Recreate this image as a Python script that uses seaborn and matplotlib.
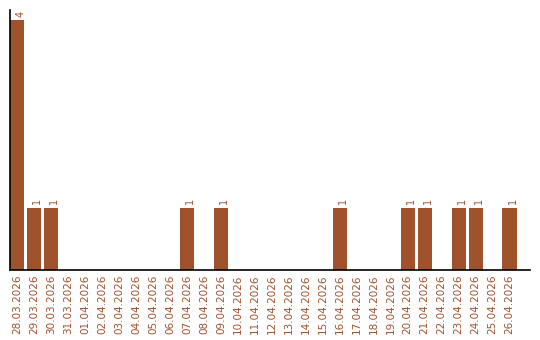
import matplotlib
matplotlib.use("Agg")
import matplotlib.pyplot as plt
import seaborn as sns
import pandas as pd

dates = ["28.03.2026", "29.03.2026", "30.03.2026", "31.03.2026", "01.04.2026",
         "02.04.2026", "03.04.2026", "04.04.2026", "05.04.2026", "06.04.2026",
         "07.04.2026", "08.04.2026", "09.04.2026", "10.04.2026", "11.04.2026",
         "12.04.2026", "13.04.2026", "14.04.2026", "15.04.2026", "16.04.2026",
         "17.04.2026", "18.04.2026", "19.04.2026", "20.04.2026", "21.04.2026",
         "22.04.2026", "23.04.2026", "24.04.2026", "25.04.2026", "26.04.2026"]
counts = [4, 1, 1, 0, 0, 0, 0, 0, 0, 0,
          1, 0, 1, 0, 0, 0, 0, 0, 0, 1,
          0, 0, 0, 1, 1, 0, 1, 1, 0, 1]

color = "#A0522D"
sns.set_style("white")
fig = plt.figure(figsize=(5.4, 3.4), dpi=100)
ax = fig.add_axes([10/540, 70/340, 520/540, 260/340])
df = pd.DataFrame({"date": dates, "count": counts})
sns.barplot(data=df, x="date", y="count", color=color, saturation=1, width=0.84,
            linewidth=0, ax=ax)
for i, v in enumerate(counts):
    if v > 0:
        ax.text(i + 0.18, v + 0.05, str(v), rotation=90, ha="center", va="bottom",
                color=color, fontsize=7)
ax.set_xlim(-0.42, 30.2)
ax.set_ylim(0, 4.16)
ax.set_xlabel("")
ax.set_ylabel("")
ax.set_yticks([])
ax.tick_params(axis="x", length=0, pad=3, labelsize=7.5, labelcolor=color, rotation=90)
for s in ["top", "right"]:
    ax.spines[s].set_visible(False)
for s in ["left", "bottom"]:
    ax.spines[s].set_color("black")
    ax.spines[s].set_linewidth(1.2)
fig.savefig("out.png", dpi=100)
